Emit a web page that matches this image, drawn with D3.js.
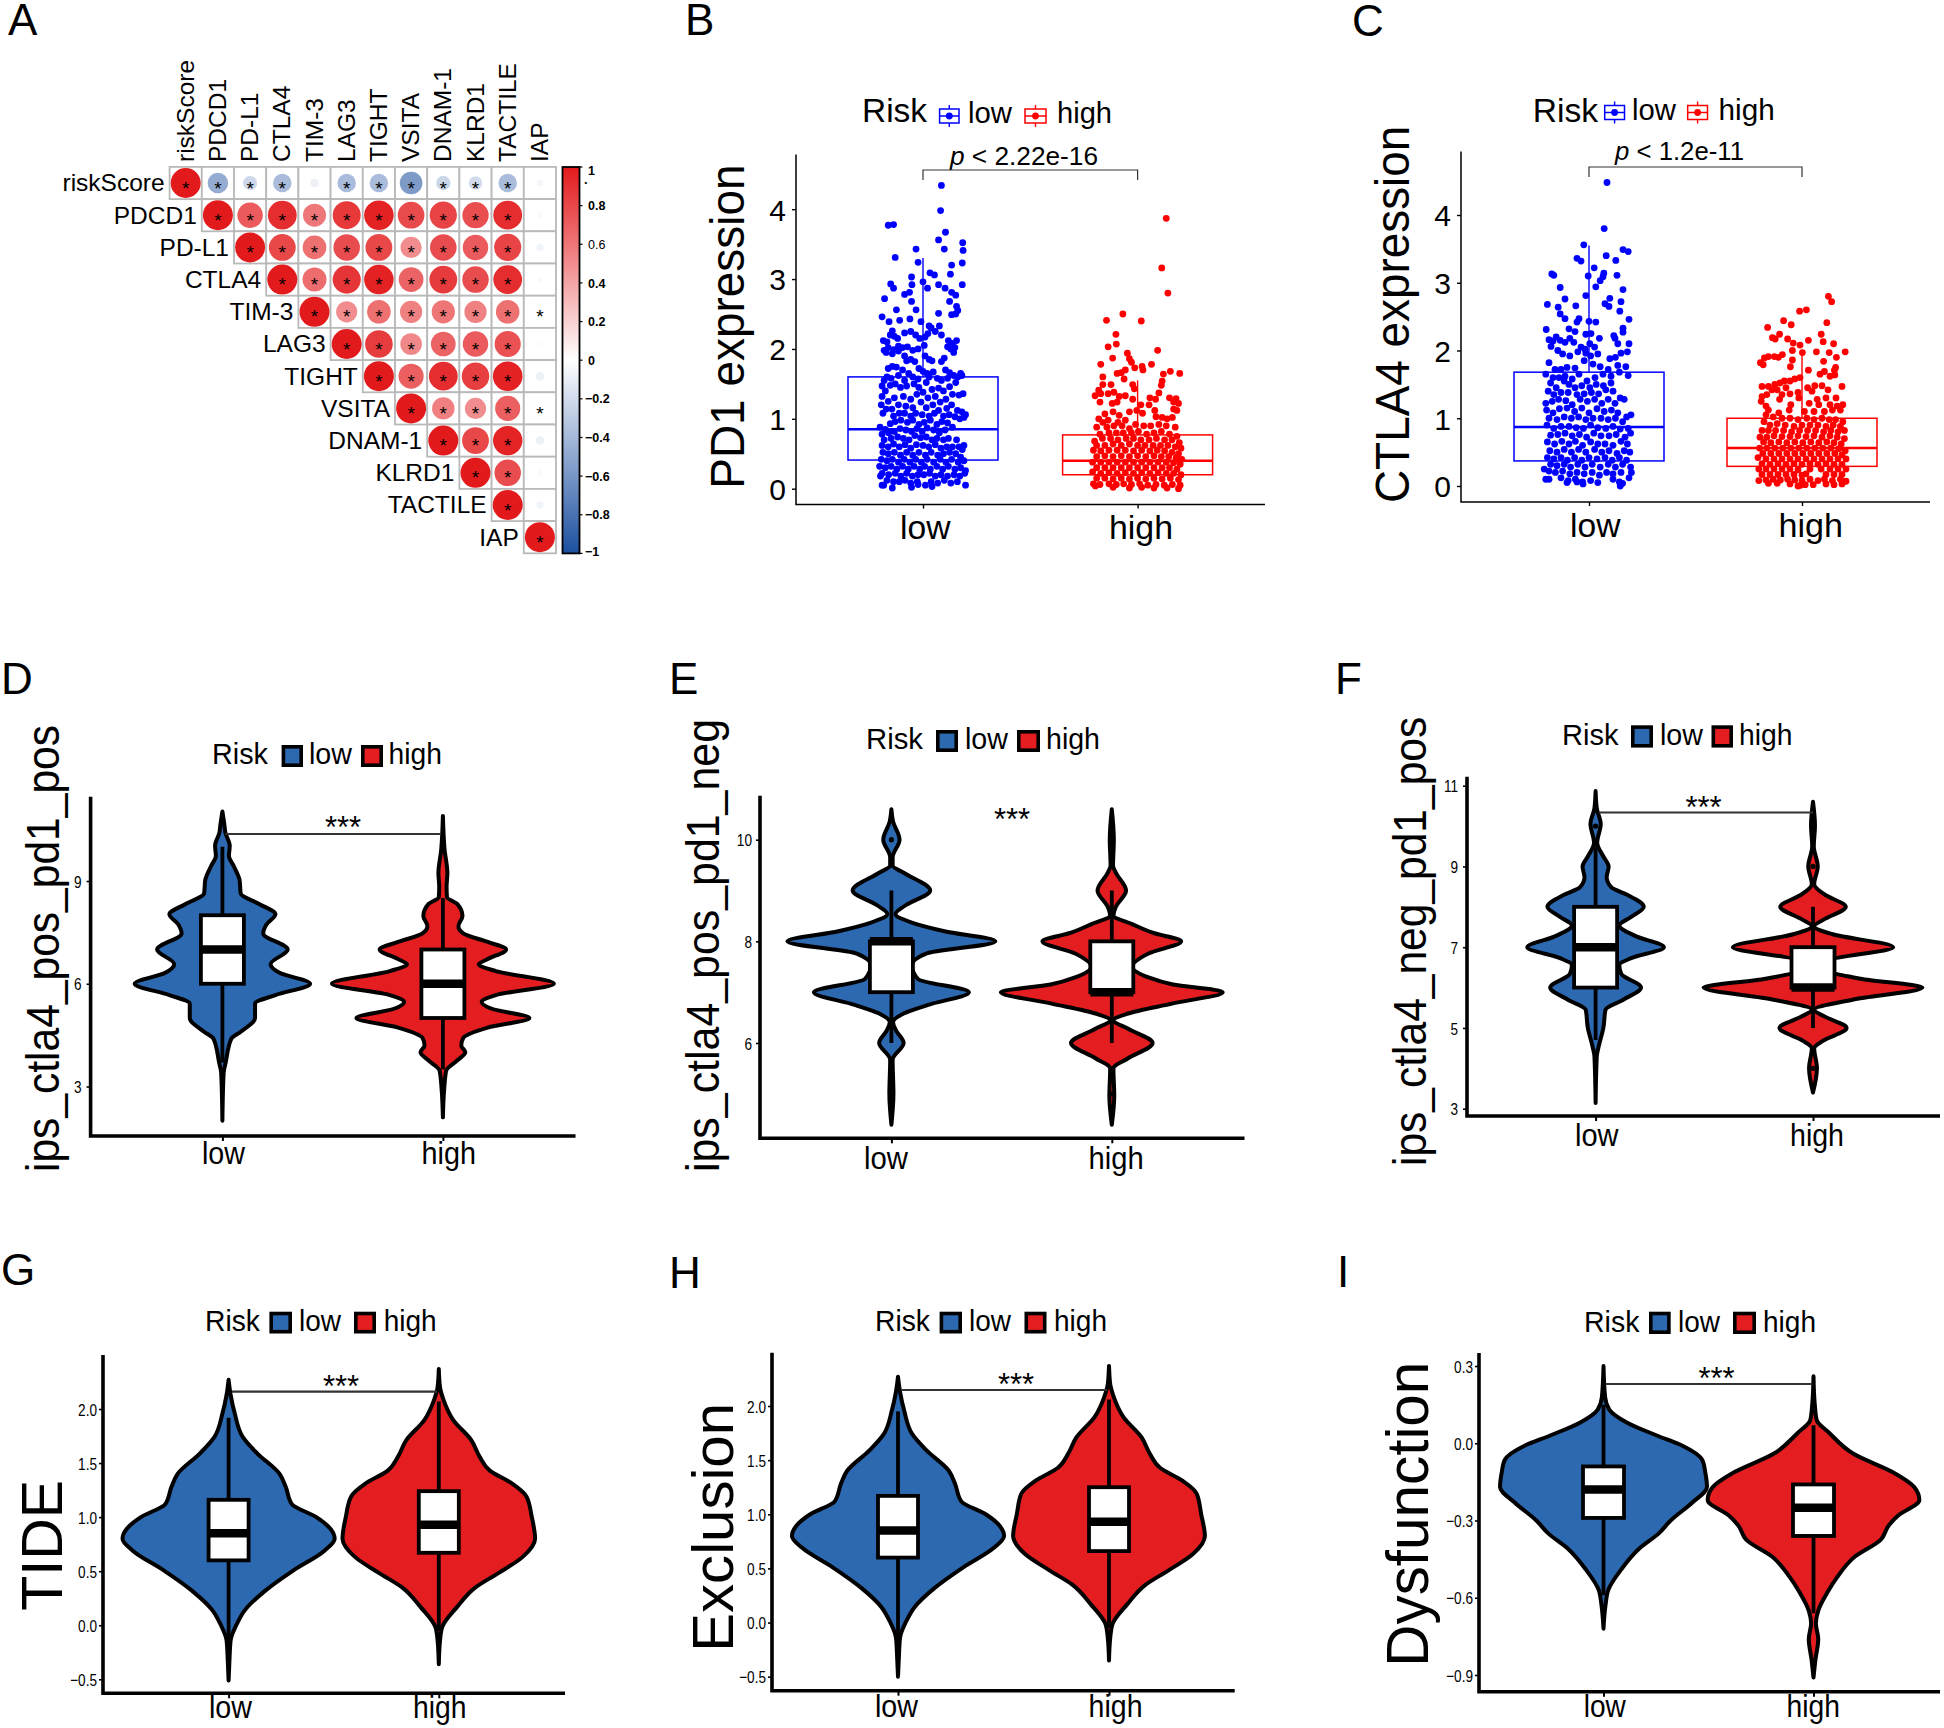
<!DOCTYPE html>
<html><head><meta charset="utf-8">
<script src="https://cdnjs.cloudflare.com/ajax/libs/d3/7.8.5/d3.min.js"></script>
<style>html,body{margin:0;background:#fff}svg{display:block}text{font-family:"Liberation Sans",Arial,sans-serif;fill:#000}</style>
</head><body><svg id="c" width="1944" height="1728"></svg>
<script>
// ---------- data ----------
const genes=["riskScore","PDCD1","PD-L1","CTLA4","TIM-3","LAG3","TIGHT","VSITA","DNAM-1","KLRD1","TACTILE","IAP"];
const corrRows=[
[1,-.47,-.22,-.38,-.08,-.38,-.38,-.57,-.23,-.2,-.38,-.05],
[1,.72,.92,.59,.87,.97,.79,.82,.77,.92,-.03],
[1,.8,.62,.78,.8,.5,.78,.72,.82,-.06],
[1,.64,.88,.97,.68,.86,.78,.92,-.03],
[1,.5,.62,.55,.6,.55,.62,-.05],
[1,.85,.52,.68,.72,.76,-.02],
[1,.7,.92,.84,.97,-.08],
[1,.56,.5,.7,-.02],
[1,.8,.96,-.08],
[1,.78,-.03],
[1,-.06],
[1]];
const corrNoStar=[[0,4],[0,11],[1,11],[2,11],[3,11],[5,11],[6,11],[8,11],[9,11],[10,11]];
const barTicks=[1,.8,.6,.4,.2,0,-.2,-.4,-.6,-.8,-1];
const groups=["low","high"];

// boxes: q1, median, q3, whisker low, whisker high
const bBox=[[.41,.85,1.6,0,3.3],[.2,.4,.77,0,1.55]];
const cBox=[[.37,.87,1.68,0,3.55],[.29,.56,1.0,0,1.95]];
// jittered points: [jitter, value]
const bLow=[[45,4.34],[43,3.98],[55,3.67],[38,3.56],[-85,3.77],[-72,3.78],[97,3.52],[98,3.41],[-17,3.43],[52,3.43],[-68,3.31],[-12,3.24],[96,3.23],[70,3.2],[67,3.07],[-28,3.03],[17,3.09],[28,3.06],[0,2.96],[-27,2.92],[-79,2.93],[-72,2.87],[38,2.92],[54,2.87],[96,2.92],[70,2.81],[80,2.77],[11,2.87],[-45,2.78],[-33,2.81],[-94,2.72],[-28,2.68],[65,2.68],[82,2.61],[85,2.55],[-65,2.56],[-17,2.56],[80,2.5],[70,2.49],[38,2.51],[-100,2.46],[-83,2.39],[-57,2.41],[-32,2.43],[-5,2.39],[40,2.33],[15,2.33],
[-75,2.26],[-80,2.2],[-70,2.18],[-62,2.15],[-97,2.12],[-88,2.1],[-45,2.23],[-30,2.25],[-18,2.2],[-8,2.15],[5,2.17],[12,2.22],[20,2.3],[30,2.25],[45,2.2],[62,2.12],[72,2.08],[82,2.12],[60,2.03],[68,2.0],[78,2.02],[-85,2.02],[-72,1.99],[-95,1.98],[-60,2.04],[-50,2.02],[-38,2.03],[-25,1.98],[-12,2.0],[3,2.05],
[-90,1.95],[-75,1.93],[-60,1.97],[-45,1.9],[-40,1.83],[-30,1.85],[-20,1.82],[5,1.9],[15,1.85],[22,1.83],[45,1.82],[52,1.87],[75,1.95],[-85,1.72],[-75,1.75],[-65,1.74],[-50,1.7],[-35,1.65],[-10,1.72],[0,1.68],[10,1.65],[25,1.67],[55,1.7],[65,1.66],[75,1.62],[85,1.6],[92,1.65],[-88,1.6],[-78,1.58],[-60,1.62],[-45,1.55],[-25,1.6],[-12,1.57],[15,1.6],[35,1.58],[45,1.55],[60,1.58],[80,1.52],[95,1.62],[-95,1.55],
[-100,1.47],[-92,1.4],[-80,1.48],[-68,1.5],[-55,1.45],[-40,1.47],[-22,1.5],[-10,1.45],[8,1.52],[22,1.42],[38,1.44],[50,1.4],[65,1.46],[72,1.35],[88,1.34],[98,1.36],[-100,1.32],[-85,1.25],[-70,1.3],[-48,1.32],[-30,1.28],[-15,1.35],[0,1.38],[12,1.3],[30,1.32],[42,1.24],[56,1.28],[-102,1.2],[-90,1.14],[-76,1.14],[-60,1.2],[-42,1.18],[-25,1.16],[-5,1.24],[8,1.16],[24,1.2],[38,1.12],[58,1.15],[70,1.2],[84,1.12],[95,1.1],[104,1.06],[-98,1.08],[-72,1.04],[-58,1.08],[-45,1.08],[-30,1.04],[-18,1.08],[-2,1.06],[15,1.04],[28,1.08],[50,1.04],[64,1.06],[78,1.03],[90,1.0],[100,1.02],
[-105,.88],[-92,.85],[-80,.93],[-68,.96],[-54,.98],[-38,.95],[-25,.98],[-10,.92],[3,.95],[18,.98],[34,.92],[46,.96],[60,.94],[72,.88],[-100,.78],[-84,.8],[-70,.82],[-56,.86],[-42,.84],[-28,.82],[-15,.86],[-2,.82],[10,.87],[26,.84],[40,.8],[54,.84],[-95,.7],[-78,.72],[-62,.74],[-48,.72],[-34,.7],[-20,.76],[-6,.73],[8,.74],[22,.7],[34,.72],[50,.7],[62,.72],[82,.7],[100,.62],[-100,.62],[-85,.6],[-72,.64],[-58,.6],[-44,.63],[-30,.58],[-16,.63],[0,.62],[14,.6],[30,.63],[44,.58],[58,.6],[72,.6],[88,.6],[96,.56],
[-98,.52],[-85,.5],[-70,.52],[-55,.48],[-40,.52],[-25,.48],[-10,.52],[6,.48],[20,.52],[36,.48],[50,.5],[65,.52],[80,.5],[92,.45],[-102,.42],[-88,.4],[-75,.42],[-60,.38],[-46,.42],[-32,.38],[-18,.42],[-4,.38],[10,.42],[26,.38],[42,.42],[56,.38],[70,.42],[86,.38],[100,.4],[-106,.32],[-92,.3],[-78,.32],[-64,.28],[-50,.32],[-36,.28],[-22,.32],[-8,.28],[4,.32],[18,.28],[34,.32],[48,.28],[62,.32],[78,.28],[92,.3],[104,.26],[-100,.22],[-84,.2],[-68,.22],[-54,.18],[-40,.22],[-26,.18],[-12,.2],[2,.2],[16,.22],[30,.18],[44,.2],[60,.18],[76,.2],[90,.18],[102,.22],[-104,.18],[-88,.12],[-72,.1],[-58,.1],[-44,.12],[-30,.08],[-14,.1],[20,.1],[36,.08],[52,.12],[68,.08],[84,.1],[-100,.05],[-96,.05],[-75,.01],[-28,.02],[-12,.06],[6,.05],[22,.03],[104,.05]];
const bHigh=[[70,3.87],[59,3.16],[74,2.8],[-36,2.5],[-76,2.41],[9,2.4],[-53,2.21],[-52,2.07],[-72,2.03],[49,1.98],[-25,1.94],[-61,1.87],[-20,1.86],[-15,1.81],[-90,1.78],[34,1.78],[-7,1.73],[11,1.75],[13,1.7],[-30,1.7],[-50,1.65],[-40,1.66],[80,1.68],[103,1.65],[63,1.64],[-85,1.6],[-33,1.57],[60,1.54],[58,1.48],[-12,1.49],[-85,1.49],[-65,1.49],[-95,1.41],[-104,1.33],[-90,1.36],[-72,1.36],[-58,1.38],[-45,1.32],[-30,1.33],[-8,1.43],[52,1.37],[30,1.3],[44,1.28],[78,1.3],[94,1.29],[100,1.22],[88,1.24],[-92,1.24],[-62,1.22],[-50,1.24],[-12,1.28],[8,1.2],[28,1.2],[-20,1.1],[-2,1.12],[12,1.08],[42,1.12],[88,1.14],[96,1.12],[-80,1.07],[-60,1.1],[-45,1.05],[-95,1.0],[-72,.98],[-85,.95],[-48,.95],[-30,.98],[45,1.03],[60,1.02],[72,1.0],[85,1.02],
[-100,.88],[-75,.88],[-58,.9],[-38,.9],[-20,.86],[-5,.92],[15,.9],[32,.9],[52,.92],[70,.9],[92,.88],[-92,.78],[-70,.8],[-52,.8],[-35,.8],[-15,.8],[2,.82],[22,.78],[40,.8],[58,.82],[78,.78],[96,.75],[-105,.68],[-86,.72],[-66,.72],[-48,.7],[-28,.72],[-10,.72],[8,.7],[28,.7],[46,.72],[66,.7],[84,.7],[102,.66],[-100,.62],[-80,.62],[-60,.64],[-40,.62],[-20,.64],[0,.62],[18,.62],[38,.62],[56,.62],[74,.62],[92,.6],[106,.58],[-108,.55],[-90,.54],[-70,.55],[-50,.55],[-30,.55],[-10,.54],[10,.55],[30,.54],[48,.55],[66,.54],[84,.52],[100,.5],[-100,.46],[-80,.47],[-60,.46],[-40,.47],[-20,.46],[0,.47],[20,.46],[40,.47],[58,.46],[76,.46],[94,.44],[108,.42],[-110,.38],[-90,.38],[-70,.38],[-50,.38],[-30,.38],[-10,.38],[10,.38],[30,.38],[50,.38],[70,.38],[88,.37],[104,.35],[-100,.3],[-80,.3],[-60,.3],[-40,.3],[-20,.3],[0,.3],[20,.3],[40,.3],[60,.3],[78,.3],[96,.28],[-110,.24],[-90,.22],[-70,.23],[-50,.22],[-30,.23],[-10,.22],[10,.23],[30,.22],[50,.23],[70,.22],[88,.22],[106,.2],[-100,.15],[-80,.15],[-60,.14],[-40,.15],[-20,.14],[0,.15],[20,.14],[40,.15],[60,.14],[80,.15],[100,.13],[-108,.07],[-92,.06],[-70,.07],[-52,.06],[-34,.07],[-15,.06],[5,.07],[25,.05],[45,.06],[65,.05],[85,.06],[104,.05],[-103,.04],[-60,.02],[-20,.01],[10,.02],[40,.01],[72,.01],[100,.0]];
const cLow=[[45,4.48],[38,3.8],[-13,3.56],[43,3.4],[85,3.49],[98,3.46],[-30,3.36],[-20,3.32],[67,3.33],[13,3.22],[-93,3.13],[-88,3.11],[-2,3.1],[37,3.14],[35,3.09],[70,3.11],[28,3.03],[-72,2.93],[17,2.94],[85,2.9],[-8,2.81],[-60,2.76],[52,2.77],[80,2.72],[40,2.69],[50,2.65],[-104,2.68],[-33,2.66],[-77,2.64],[77,2.58],[-72,2.54],[-60,2.47],[-25,2.47],[100,2.46],[0,2.43],[17,2.42],[-30,2.42],[-107,2.31],[-50,2.32],[-35,2.28],[85,2.33],[85,2.27],[-8,2.24],[5,2.25],[62,2.22],
[-100,2.16],[-90,2.14],[-82,2.2],[-72,2.15],[-60,2.12],[-48,2.18],[-38,2.12],[-20,2.05],[-10,2.02],[2,2.1],[14,2.05],[26,2.18],[65,2.18],[72,2.1],[100,2.1],[-95,2.06],[-78,2.0],[-66,1.95],[-48,1.92],[-28,1.98],[-8,1.96],[4,1.92],[22,1.95],[52,1.88],[66,1.9],[80,1.96],[96,1.98],[-100,1.82],[-85,1.72],[-70,1.72],[-55,1.75],[-35,1.74],[-12,1.85],[10,1.8],[28,1.76],[48,1.72],[72,1.78],[92,1.76],[-108,1.65],[-90,1.6],[-75,1.6],[-60,1.62],[-42,1.58],[-25,1.65],[-5,1.55],[15,1.6],[35,1.65],[55,1.62],[76,1.68],[98,1.63],
[-96,1.52],[-82,1.45],[-62,1.55],[-50,1.5],[-35,1.45],[-18,1.48],[2,1.45],[18,1.5],[36,1.48],[55,1.52],[-102,1.4],[-88,1.35],[-70,1.38],[-52,1.38],[-30,1.35],[-12,1.36],[6,1.38],[24,1.36],[42,1.42],[60,1.4],[78,1.3],[-108,1.22],[-92,1.25],[-76,1.28],[-58,1.26],[-42,1.2],[-22,1.28],[-4,1.25],[14,1.28],[32,1.22],[48,1.28],[65,1.22],[88,1.28],[-106,1.12],[-90,1.08],[-74,1.14],[-55,1.15],[-36,1.1],[-18,1.15],[0,1.08],[20,1.14],[38,1.1],[56,1.12],[72,1.08],[94,1.02],[105,1.05],[-100,1.0],[-80,.98],[-62,1.02],[-44,1.0],[-26,1.02],[-8,.98],[10,1.0],[30,1.0],[48,.98],[66,1.0],[84,.95],
[-105,.9],[-88,.85],[-70,.88],[-50,.88],[-32,.86],[-14,.85],[4,.9],[22,.86],[42,.85],[60,.88],[78,.84],[98,.85],[-96,.75],[-78,.76],[-60,.78],[-42,.74],[-24,.76],[-6,.72],[12,.78],[30,.74],[50,.74],[68,.76],[90,.72],[104,.78],[-104,.65],[-86,.62],[-68,.66],[-50,.62],[-34,.66],[-16,.6],[4,.65],[22,.62],[40,.62],[60,.6],[80,.66],[96,.62],[-98,.52],[-80,.5],[-62,.54],[-44,.5],[-26,.54],[-8,.5],[14,.54],[32,.5],[50,.52],[70,.48],[88,.52],[102,.5],[-104,.42],[-88,.4],[-70,.42],[-54,.38],[-36,.42],[-18,.38],[0,.42],[20,.4],[40,.42],[58,.38],[76,.42],[94,.38],[-96,.32],[-80,.3],[-62,.32],[-46,.28],[-28,.32],[-10,.28],[8,.32],[28,.28],[48,.32],[66,.28],[84,.32],[104,.28],[-112,.25],[-100,.22],[-84,.2],[-66,.22],[-48,.18],[-30,.2],[-12,.18],[8,.2],[26,.16],[44,.2],[60,.18],[80,.2],[106,.2],[-108,.1],[-100,.1],[-70,.12],[-52,.08],[-34,.1],[-16,.06],[4,.08],[22,.05],[60,.1],[76,.06],[100,.12],[-55,.05],[-30,.06],[-15,.03],[78,0],[84,.04]];
const cHigh=[[66,2.8],[74,2.72],[11,2.6],[-6,2.58],[-46,2.44],[-27,2.38],[62,2.41],[-86,2.34],[-56,2.24],[-74,2.19],[-67,2.17],[48,2.24],[-36,2.17],[16,2.15],[53,2.13],[79,2.1],[-22,2.11],[-5,2.08],[-24,2.0],[1,1.97],[36,1.98],[108,1.98],[68,1.97],[86,1.9],[-94,1.89],[-84,1.91],[-69,1.91],[-59,1.9],[-49,1.94],[-104,1.82],[-97,1.79],[-24,1.86],[54,1.84],[-29,1.76],[84,1.75],[16,1.71],[56,1.69],[81,1.71],[82,1.64],[70,1.62],[45,1.65],[-5,1.6],[-18,1.58],[-30,1.55],[-44,1.55],[-55,1.52],[-68,1.5],[-84,1.47],[-100,1.47],[32,1.48],[50,1.48],[100,1.47],[14,1.45],[-40,1.45],[-62,1.42],[-75,1.42],[25,1.4],[65,1.42],[-10,1.38],[-100,1.32],[-88,1.35],[-50,1.35],[-30,1.36],[-56,1.28],[-8,1.3],[38,1.28],[85,1.3],[60,1.3],[-102,1.25],[-90,1.18],[-32,1.12],[-28,1.2],[18,1.22],[42,1.2],[-84,1.12],[70,1.2],[88,1.18],[102,1.2],[96,1.12],[76,1.12],[56,1.1],[30,1.1],[6,1.1],[-58,1.08],[-90,1.05],[-72,1.02],
[-50,1.0],[-30,1.0],[-10,.98],[12,1.0],[30,.98],[50,1.0],[68,.98],[84,.98],[102,.95],[-95,.95],[-80,.9],[-62,.92],[-42,.9],[-20,.88],[0,.9],[20,.9],[40,.9],[60,.88],[78,.9],[96,.88],[106,.82],[-100,.82],[-84,.82],[-66,.82],[-46,.82],[-26,.8],[-6,.82],[14,.82],[34,.82],[54,.8],[72,.82],[90,.8],[-105,.72],[-88,.72],[-70,.74],[-50,.73],[-30,.73],[-10,.74],[10,.73],[30,.74],[50,.72],[70,.74],[88,.72],[106,.7],[-96,.65],[-78,.64],[-58,.65],[-38,.64],[-18,.65],[2,.64],[22,.65],[42,.64],[62,.65],[80,.64],[98,.62],[-106,.56],[-88,.56],[-68,.56],[-48,.56],[-28,.56],[-8,.56],[12,.56],[32,.56],[52,.56],[72,.56],[92,.55],[108,.52],[-98,.48],[-78,.48],[-58,.48],[-38,.48],[-18,.48],[2,.48],[22,.48],[42,.48],[62,.48],[82,.48],[100,.46],[-110,.42],[-90,.4],[-70,.4],[-50,.4],[-30,.4],[-10,.4],[10,.4],[30,.4],[50,.4],[70,.4],[90,.4],[110,.4],[-100,.33],[-80,.32],[-60,.33],[-40,.32],[-20,.33],[0,.32],[20,.33],[40,.32],[60,.33],[80,.32],[100,.32],[-108,.25],[-90,.25],[-70,.25],[-50,.25],[-30,.25],[-10,.24],[10,.18],[20,.25],[48,.25],[70,.25],[90,.25],[110,.25],[-100,.17],[-80,.17],[-60,.17],[-40,.17],[-20,.17],[0,.16],[60,.17],[80,.17],[100,.17],[-108,.08],[-90,.09],[-72,.1],[-54,.09],[-36,.1],[-18,.09],[0,.08],[20,.1],[40,.08],[56,.1],[76,.08],[96,.1],[110,.07],[-84,.04],[-62,.04],[-30,.03],[-10,.0],[8,.02],[28,.02],[60,.03],[80,.02],[100,.03],[-4,.01]];

// violins: value stops and density (half-width units)
const dLowV=[11.03,10.63,10.43,10.03,9.73,9.43,9.03,8.63,8.33,8.03,7.73,7.47,7,6.57,6.32,6,5.67,5.42,5,4.6,4.4,3.7,3.4,2];
const dLowW=[0,5,7,18,16,28,42,45,90,130,108,100,160,118,140,215,130,80,80,45,22,8,3,0];
const dHighV=[10.9,9.93,9.23,8.83,8.53,8.33,7.98,7.68,7.47,7.22,7,6.72,6.57,6.37,6,5.67,5.47,5.27,5,4.72,4.42,4.2,4,3.76,3.46,2.9,2.1];
const dHighW=[0,4,11,9,10,35,48,38,50,110,155,110,88,130,272,130,95,120,212,110,50,45,55,35,8,3,0];
const dBox=[[6,7,8,3.7,10],[5,6,7,3.5,8.5]];
const eLowV=[10.6,10.36,10,9.65,9.49,9.35,9,8.71,8.54,8.37,8.2,8,7.76,7.53,7.26,7,6.75,6.58,6.41,6.24,6,5.67,5,4.39];
const eLowW=[0,4,20,3,3,30,95,35,10,50,130,255,85,50,65,190,90,30,4,12,30,3,5,0];
const eHighV=[10.6,10,9.49,9.35,9,8.68,8.51,8.34,8.17,8,7.76,7.5,7.29,7.15,7,6.78,6.58,6.45,6.28,6,5.7,5.5,4.96,4.39];
const eHighW=[0,5,3,10,35,10,4,50,100,170,90,50,90,150,272,150,40,4,40,100,40,4,6,0];
const eBox=[[7,8,8,6,9],[7,7,8,6,9]];
const fLowV=[10.87,10.44,10.05,9.59,9.24,9,8.73,8.48,8.3,8,7.75,7.54,7.28,7,6.73,6.56,6.34,6,5.7,5.45,5.02,4.55,4.3,3.14];
const fLowW=[0,3,13,4,20,33,28,40,80,122,90,60,100,173,90,60,65,115,70,25,20,8,3,0];
const fHighV=[10.6,10.01,9.5,9,8.56,8.3,8,7.7,7.52,7.32,7,6.68,6.39,6.22,6,5.7,5.45,5.28,5,4.68,4.5,4,3.4];
const fHighW=[0,5,2,12,3,30,83,30,3,50,203,50,50,120,277,100,3,30,85,25,3,10,0];
const fBox=[[6,7,8,4.7,9.5],[6,6,7,5,8]];
const gLowV=[2.27,2.13,1.96,1.74,1.59,1.4,1.28,1.12,1,.89,.8,.69,.51,.32,.14,.01,-.14,-.33,-.51];
const gLowW=[0,5,15,35,70,125,140,155,215,250,260,235,160,90,40,20,5,2,0];
const gHighV=[2.37,2.2,2.08,1.9,1.71,1.56,1.43,1.31,1.19,1,.8,.63,.48,.35,.17,-.02,-.14,-.36];
const gHighW=[0,3,12,35,80,100,125,180,215,228,236,205,145,90,45,8,3,0];
const gBox=[[.6,.85,1.16,-.2,1.92],[.67,.93,1.24,-.05,2.07]];
const hLowV=[2.27,2.13,1.96,1.74,1.59,1.4,1.28,1.12,1,.89,.8,.69,.51,.32,.14,.01,-.14,-.33,-.5];
const hLowW=[0,5,15,35,70,125,140,155,215,250,260,235,160,90,40,20,5,2,0];
const hHighV=[2.37,2.2,2.08,1.9,1.71,1.56,1.43,1.31,1.19,1,.8,.63,.48,.35,.17,-.02,-.14,-.35];
const hHighW=[0,3,12,35,80,100,125,180,215,226,235,205,145,90,45,8,3,0];
const hBox=[[.6,.85,1.17,-.2,1.95],[.66,.93,1.25,-.05,2.06]];
const iLowV=[.3,.18,.13,.08,.03,-.01,-.065,-.116,-.17,-.23,-.3,-.35,-.41,-.49,-.57,-.63,-.72];
const iLowW=[0,4,15,60,135,200,250,258,262,225,170,140,90,45,12,5,0];
const iHighV=[.26,.155,.09,.04,-.04,-.116,-.17,-.22,-.28,-.32,-.375,-.44,-.52,-.58,-.65,-.7,-.76,-.84,-.91];
const iHighW=[0,3,8,40,100,205,255,268,215,190,170,105,60,35,12,6,12,5,0];
const iBox=[[-.29,-.18,-.09,-.59,.15],[-.36,-.25,-.16,-.66,.07]];
const eOutliers=[[10,5],[10,5]], fOutliers=[[10],[9,4,10]];

// ---------- drawing ----------
const BLUE="#2c69b0",RED="#e41e20";
const svg=d3.select("#c");
svg.append("rect").attr("width",1944).attr("height",1728).attr("fill","#fff");

function txt(g,s,x0,x1,base,size,opt={}){
  const t=g.append("text").attr("x",x0).attr("y",base).attr("font-size",size).text(s);
  if(x1!=null)t.attr("textLength",x1-x0).attr("lengthAdjust","spacingAndGlyphs");
  if(opt.style)t.attr("font-style",opt.style);
  return t;
}
function vtxt(g,s,xBase,yBottom,yTop,size){
  return g.append("text").attr("transform",`translate(${xBase},${yBottom}) rotate(-90)`)
    .attr("font-size",size).attr("textLength",yBottom-yTop).attr("lengthAdjust","spacingAndGlyphs").text(s);
}
function stars(g,cx,cy,size,s){
  g.append("text").attr("x",cx).attr("y",cy+.58*size).attr("text-anchor","middle").attr("font-size",size).text(s);
}
[["A",8,35],["B",685,34.5],["C",1352,36],["D",1,694],["E",669,694],["F",1335,694],["G",1,1285],["H",669,1287.5],["I",1337,1287]]
 .forEach(d=>txt(svg,d[0],d[1],null,d[2],44));

// ---- panel A ----
(function(){
  const g=svg.append("g");
  const xs=d3.scaleBand().domain(genes).range([169.6,169.6+32.2*12]);
  const ys=d3.scaleBand().domain(genes).range([166.9,166.9+32.2*12]);
  const col=d3.scaleLinear().domain([-1,0,1]).range(["#1c4f9f","#ffffff","#e31a1c"]);
  const rad=d3.scaleSqrt().domain([0,1]).range([0,15]);
  const noStar=new Set(corrNoStar.map(d=>d.join()));
  corrRows.forEach((row,i)=>row.forEach((v,k)=>{
    const j=i+k,a=genes[i],b=genes[j];
    g.append("rect").attr("x",xs(b)).attr("y",ys(a)).attr("width",xs.bandwidth()).attr("height",ys.bandwidth())
      .attr("fill","#fff").attr("stroke","#b9b9b9").attr("stroke-width",1.8);
  }));
  corrRows.forEach((row,i)=>row.forEach((v,k)=>{
    const j=i+k,a=genes[i],b=genes[j],cx=xs(b)+16.1,cy=ys(a)+16.1;
    g.append("circle").attr("cx",cx).attr("cy",cy).attr("r",rad(Math.abs(v))).attr("fill",col(v));
    if(!noStar.has(i+","+j))stars(g,cx,cy+.5,19,"*");
  }));
  genes.forEach((n,i)=>{
    g.append("text").attr("x",xs(n)-5).attr("y",ys(n)+16+8.5).attr("text-anchor","end").attr("font-size",24.5).text(n);
    g.append("text").attr("transform",`translate(${xs(n)+16.1+8},162) rotate(-90)`).attr("font-size",24.5).text(n);
  });
  const by=d3.scaleLinear().domain([1,-1]).range([167,553.4]);
  const defs=svg.append("defs").append("linearGradient").attr("id","cbar").attr("x1",0).attr("x2",0).attr("y1",0).attr("y2",1);
  [1,.5,0,-.5,-1].forEach((v,i)=>defs.append("stop").attr("offset",i/4).attr("stop-color",col(v)));
  g.append("rect").attr("x",562.5).attr("y",by(1)).attr("width",17).attr("height",by(-1)-by(1)).attr("fill","url(#cbar)").attr("stroke","#000").attr("stroke-width",1.8);
  barTicks.forEach(v=>{
    const y=by(v);
    g.append("line").attr("x1",579.5).attr("x2",582.5).attr("y1",y).attr("y2",y).attr("stroke","#000").attr("stroke-width",1.2);
    const lab=v===1?"1":v===-1?"\u22121":v===0?"0":d3.format(".1f")(v).replace("-","\u2212");
    const clamp=v===1?170:v===-1?551:y;
    g.append("text").attr("x",v<0?585:588).attr("y",clamp+4.6).attr("font-size",12.5)
      .attr("font-weight",Math.abs(v)===.6&&v>0?"normal":"bold").text(lab);
  });
  g.append("text").attr("x",584).attr("y",184).attr("font-size",13).attr("font-weight","bold").text(".");
})();

// ---- panels B, C ----
function boxPanel(c){
  const g=svg.append("g");
  const y=d3.scaleLinear().domain([0,4]).range([c.y0,c.y4]);
  const x=d3.scalePoint().domain(groups).range(c.xs);
  g.append("path").attr("d",`M${c.ax},${c.top}V${c.bottom}H${c.right}`).attr("fill","none").attr("stroke","#000").attr("stroke-width",1.5);
  const ya=g.append("g").attr("transform",`translate(${c.ax},0)`).call(d3.axisLeft(y).tickValues([0,1,2,3,4]).tickSize(4).tickFormat(d3.format("d")));
  ya.select(".domain").remove();
  ya.selectAll("text").attr("font-size",30).attr("x",-10).attr("dy",".36em");
  ya.selectAll("line").attr("stroke","#000").attr("stroke-width",1.4);
  const xa=g.append("g").attr("transform",`translate(0,${c.bottom})`).call(d3.axisBottom(x).tickSize(4).tickFormat(""));
  xa.select(".domain").remove();xa.selectAll("line").attr("stroke","#000").attr("stroke-width",1.4);
  c.labels.forEach(l=>txt(g,l[0],l[1],l[2],c.xBase,34));
  vtxt(g,c.title,c.tx,c.ty0,c.ty1,49);
  const bw=c.boxW;
  const jit=d3.scaleLinear().domain([-110,110]).range([-c.jit,c.jit]);
  groups.forEach((gr,i)=>{
    const col=i?"#ff0000":"#0000ff",b=c.box[i],cx=x(gr);
    g.append("line").attr("x1",cx).attr("x2",cx).attr("y1",y(b[2])).attr("y2",y(b[4])).attr("stroke",col).attr("stroke-width",1.4);
    g.append("rect").attr("x",cx-bw/2).attr("width",bw).attr("y",y(b[2])).attr("height",y(b[0])-y(b[2])).attr("fill","none").attr("stroke",col).attr("stroke-width",1.5);
    g.append("line").attr("x1",cx-bw/2).attr("x2",cx+bw/2).attr("y1",y(b[1])).attr("y2",y(b[1])).attr("stroke",col).attr("stroke-width",2.6);
    g.append("g").selectAll("circle").data(c.pts[i]).join("circle")
      .attr("cx",d=>cx+jit(d[0])).attr("cy",d=>y(d[1])).attr("r",3.4).attr("fill",col);
  });
  txt(g,"Risk",c.risk[0],c.risk[1],c.riskB,33);
  c.leg.forEach((l,i)=>{
    const col=i?"#ff0000":"#0000ff",lx=l[0],lw=l[1]-l[0],my=c.legY;
    g.append("line").attr("x1",lx+lw/2).attr("x2",lx+lw/2).attr("y1",my-11).attr("y2",my+11).attr("stroke",col).attr("stroke-width",1.4);
    g.append("rect").attr("x",lx).attr("y",my-7).attr("width",lw).attr("height",14).attr("fill","#fff").attr("stroke",col).attr("stroke-width",1.5);
    g.append("line").attr("x1",lx).attr("x2",lx+lw).attr("y1",my).attr("y2",my).attr("stroke",col).attr("stroke-width",1.5);
    g.append("circle").attr("cx",lx+lw/2).attr("cy",my).attr("r",3.4).attr("fill",col);
    txt(g,groups[i],l[2],l[3],c.legB,29);
  });
  const t=txt(g,"",c.p[0],c.p[1],c.p[2],26);
  t.append("tspan").attr("font-style","italic").text("p");
  t.append("tspan").text(" < "+c.pv);
  g.append("path").attr("d",`M${c.xs[0]},${c.bk+10}V${c.bk}H${c.xs[1]}V${c.bk+10}`).attr("fill","none").attr("stroke","#333").attr("stroke-width",1.2);
}
boxPanel({ax:796,top:154.5,bottom:504.6,right:1265,y0:488.7,y4:209.2,xs:[923,1137.6],box:bBox,pts:[bLow,bHigh],boxW:150,jit:45,
 labels:[["low",900,950.5],["high",1109,1173]],xBase:538.5,title:"PD1 expression",tx:744,ty0:488.7,ty1:164.5,
 risk:[862,927],riskB:122,leg:[[939.6,959,968,1012],[1025,1046,1057,1112]],legY:116,legB:123,p:[950,1098,164.5],pv:"2.22e-16",bk:170});
boxPanel({ax:1461,top:151.6,bottom:502,right:1930,y0:486,y4:215,xs:[1589,1802],box:cBox,pts:[cLow,cHigh],boxW:150,jit:44,
 labels:[["low",1570,1620.5],["high",1778.5,1843]],xBase:537,title:"CTLA4 expression",tx:1409,ty0:503,ty1:125.7,
 risk:[1532.7,1598],riskB:122,leg:[[1604.7,1624.5,1632,1676],[1687.7,1707.5,1718.6,1774.7]],legY:112.5,legB:120,p:[1615,1744,160],pv:"1.2e-11",bk:167});

// ---- violin panels ----
function violinPanel(c){
  const g=svg.append("g");
  const y=d3.scaleLinear().domain(c.yd).range(c.yr);
  const x=d3.scalePoint().domain(groups).range(c.xs);
  const w=d3.scaleLinear().domain([0,100]).range([0,c.wp]);
  g.append("path").attr("d",`M${c.ax},${c.top}V${c.bottom}H${c.right}`).attr("fill","none").attr("stroke","#000").attr("stroke-width",3.6);
  const ya=g.append("g").attr("transform",`translate(${c.ax},0)`).call(d3.axisLeft(y).tickValues(c.ticks).tickSize(4).tickFormat(d3.format(c.fmt)));
  ya.select(".domain").remove();ya.selectAll("line").attr("stroke","#000").attr("stroke-width",1.6);
  ya.selectAll("text").attr("font-size",c.tf).attr("x",-c.tx).attr("dy",".36em").each(function(){
    this.setAttribute("textLength",this.getComputedTextLength()*.8);
    this.setAttribute("lengthAdjust","spacingAndGlyphs");
  });
  const xa=g.append("g").attr("transform",`translate(0,${c.bottom})`).call(d3.axisBottom(x).tickSize(5).tickFormat(""));
  xa.select(".domain").remove();xa.selectAll("line").attr("stroke","#000").attr("stroke-width",2);
  c.labels.forEach(l=>txt(g,l[0],l[1],l[2],c.xBase,32));
  vtxt(g,c.title,c.titleX,c.titleY[0],c.titleY[1],c.titleF);
  groups.forEach((gr,i)=>{
    const cx=x(gr),V=c.v[i][0],W=c.v[i][1],b=c.box[i],col=i?RED:BLUE,bw=c.boxW;
    const area=d3.area().curve(d3.curveMonotoneY).y((d,k)=>y(V[k])).x0((d,k)=>cx-w(W[k])).x1((d,k)=>cx+w(W[k]));
    g.append("path").attr("d",area(V)).attr("fill",col).attr("stroke","#000").attr("stroke-width",4).attr("stroke-linejoin","round");
    g.append("line").attr("x1",cx).attr("x2",cx).attr("y1",y(b[3])).attr("y2",y(b[4])).attr("stroke","#000").attr("stroke-width",3.8);
    g.append("rect").attr("x",cx-bw/2).attr("width",bw).attr("y",y(b[2])).attr("height",y(b[0])-y(b[2])).attr("fill","#fff").attr("stroke","#000").attr("stroke-width",3.8);
    g.append("line").attr("x1",cx-bw/2).attr("x2",cx+bw/2).attr("y1",y(b[1])).attr("y2",y(b[1])).attr("stroke","#000").attr("stroke-width",8.5);
    (c.out?c.out[i]:[]).forEach(o=>g.append("circle").attr("cx",cx).attr("cy",y(o)).attr("r",2.6).attr("fill","#000"));
  });
  if(c.bar)g.append("line").attr("x1",c.bar[0]).attr("x2",c.bar[1]).attr("y1",c.bar[2]).attr("y2",c.bar[2]).attr("stroke","#333").attr("stroke-width",2.2);
  stars(g,c.star[0],c.star[1],31,"***");
  txt(g,"Risk",c.risk[0],c.risk[1],c.riskB,30);
  c.leg.forEach((l,i)=>{
    g.append("rect").attr("x",l[0]+1.8).attr("y",c.legY[0]+1.8).attr("width",l[1]-l[0]-3.6).attr("height",c.legY[1]-c.legY[0]-3.6)
      .attr("fill",i?RED:BLUE).attr("stroke","#000").attr("stroke-width",3.6);
    txt(g,groups[i],l[2],l[3],c.riskB,30);
  });
}
const cfgs=[
{ax:90.6,top:796.8,bottom:1136,right:575.5,yd:[3,9],yr:[1086.5,881],xs:[222.4,442.9],ticks:[3,6,9],fmt:"d",tf:17,tx:9,wp:40.8,
 labels:[["low",202,245],["high",421.6,476]],xBase:1163.5,title:"ips_ctla4_pos_pd1_pos",titleX:59,titleY:[1172,725],titleF:46,
 v:[[dLowV,dLowW],[dHighV,dHighW]],box:dBox,boxW:43,bar:[225.7,441,834],star:[343,820],risk:[212,268],riskB:764,leg:[[281.6,303,309,352],[361,383,388.6,442]],legY:[745,767]},
{ax:760,top:795.7,bottom:1138.3,right:1244.5,yd:[6,10],yr:[1043,839.7],xs:[891.4,1111.8],ticks:[6,8,10],fmt:"d",tf:17,tx:8,wp:40.8,
 labels:[["low",864,908],["high",1088.6,1143.7]],xBase:1168.5,title:"ips_ctla4_pos_pd1_neg",titleX:719,titleY:[1172,719],titleF:46,out:eOutliers,
 v:[[eLowV,eLowW],[eHighV,eHighW]],box:eBox,boxW:43,star:[1012,812],risk:[866,923],riskB:748.7,leg:[[936,958,965,1008],[1017,1040,1046,1100]],legY:[730,752]},
{ax:1467,top:776.8,bottom:1116,right:1940,yd:[3,11],yr:[1108.7,785.7],xs:[1595.6,1813],ticks:[3,5,7,9,11],fmt:"d",tf:17,tx:9,wp:39.5,
 labels:[["low",1575,1618.5],["high",1790,1844]],xBase:1145.5,title:"ips_ctla4_neg_pd1_pos",titleX:1426,titleY:[1166,716.8],titleF:46,out:fOutliers,
 v:[[fLowV,fLowW],[fHighV,fHighW]],box:fBox,boxW:43,bar:[1599,1813,812.5],star:[1703.6,800.5],risk:[1562,1618.5],riskB:744.7,leg:[[1631,1653,1660,1703],[1711.5,1733,1739,1792.5]],legY:[725.3,747.6]},
{ax:103,top:1355,bottom:1693.3,right:565,yd:[-.5,2],yr:[1679.3,1409],xs:[228.6,438.8],ticks:[-.5,0,.5,1,1.5,2],fmt:".1f",tf:17,tx:6,wp:40.8,
 labels:[["low",209,252],["high",413,466.5]],xBase:1718,title:"TIDE",titleX:62,titleY:[1610.7,1480],titleF:58,
 v:[[gLowV,gLowW],[gHighV,gHighW]],box:gBox,boxW:40,bar:[232,437,1391.7],star:[341,1379],risk:[205,260],riskB:1330.7,leg:[[269.4,292,299,341],[354,376,383.7,436.7]],legY:[1311.7,1333.5]},
{ax:772,top:1352.7,bottom:1690.7,right:1234.7,yd:[-.5,2],yr:[1676.7,1406],xs:[898,1109],ticks:[-.5,0,.5,1,1.5,2],fmt:".1f",tf:17,tx:6,wp:40.8,
 labels:[["low",875,918],["high",1088.6,1142.5]],xBase:1716.7,title:"Exclusion",titleX:732.7,titleY:[1651.7,1403],titleF:58,
 v:[[hLowV,hLowW],[hHighV,hHighW]],box:hBox,boxW:40,bar:[901,1107,1390],star:[1016,1376.7],risk:[875,930],riskB:1330.7,leg:[[939.6,962,969,1011],[1024.5,1046.5,1054,1107]],legY:[1311.7,1333.5]},
{ax:1479,top:1353,bottom:1691.7,right:1940,yd:[-.9,.3],yr:[1675,1366],xs:[1603.5,1813.5],ticks:[-.9,-.6,-.3,0,.3],fmt:".1f",tf:17,tx:6,wp:39.5,
 labels:[["low",1583.7,1625.7],["high",1786.6,1840]],xBase:1716.7,title:"Dysfunction",titleX:1427.5,titleY:[1666.7,1361.7],titleF:59,
 v:[[iLowV,iLowW],[iHighV,iHighW]],box:iBox,boxW:41,bar:[1605.5,1812.3,1384],star:[1716.6,1371],risk:[1584,1639.5],riskB:1331.7,leg:[[1649,1670.7,1678,1720],[1733,1756,1763,1816]],legY:[1311.7,1334]}
];
cfgs.forEach(violinPanel);
</script></body></html>
